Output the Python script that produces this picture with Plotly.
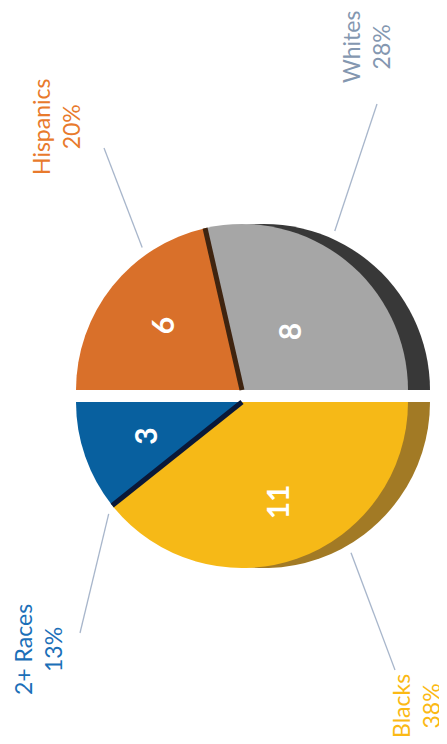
import math
import plotly.graph_objects as go

# ---------------- data ----------------
groups = ["Hispanics", "Whites", "Blacks", "2+ Races"]
counts = [6, 8, 11, 3]
pct_labels = ["20%", "28%", "38%", "13%"]
top_half = ["Hispanics", "Whites"]
bottom_half = ["Blacks", "2+ Races"]

face_colors = {"Hispanics": "#d9702a", "Whites": "#a6a6a6", "Blacks": "#f6b917", "2+ Races": "#08609f"}
side_colors = {"Hispanics": "#6e3a14", "Whites": "#383838", "Blacks": "#a27a25", "2+ Races": "#0b2a50"}
label_colors = {"Hispanics": "#e87a2c", "Whites": "#8497b0", "Blacks": "#fbb915", "2+ Races": "#1b6fb8"}

W, H = 447, 744
CX, R = 234, 166
CY_TOP, CY_BOT = 382, 394
DEPTH = 22
START = 270  # degrees clockwise from 12 o'clock

val = dict(zip(groups, counts))
total = sum(counts)


def px(x):
    return x / W


def py(y):
    return 1 - y / H


def domain(cx, cy):
    return dict(x=[px(cx - R), px(cx + R)], y=[py(cy + R), py(cy - R)])


top_vals = [val[g] for g in top_half] + [sum(val[g] for g in bottom_half)]
bot_vals = [sum(val[g] for g in top_half)] + [val[g] for g in bottom_half]
clear = "rgba(0,0,0,0)"

fig = go.Figure()


def add_pie(values, colors, cx, cy):
    fig.add_trace(go.Pie(
        values=values, sort=False, direction="clockwise", rotation=START,
        marker=dict(colors=colors, line=dict(width=0)),
        textinfo="none", hoverinfo="skip", showlegend=False,
        domain=domain(cx, cy),
    ))


# side (depth) layers
add_pie(top_vals, [side_colors[g] for g in top_half] + [clear], CX + DEPTH, CY_TOP)
add_pie(bot_vals, [clear] + [side_colors[g] for g in bottom_half], CX + DEPTH, CY_BOT)
# top faces
add_pie(top_vals, [face_colors[g] for g in top_half] + [clear], CX, CY_TOP)
add_pie(bot_vals, [clear] + [face_colors[g] for g in bottom_half], CX, CY_BOT)

# slice angles (clockwise from 12 o'clock), following the drawing order
order = top_half + bottom_half
angles = {}
a = START
for g in order:
    span = val[g] / total * 360
    angles[g] = (a, a + span)
    a += span


def point(g_cy, phi, r):
    t = math.radians(phi)
    return CX + r * math.sin(t), g_cy - r * math.cos(t)


shapes = []
# dark separators between adjacent slices
sep = [(angles["Whites"][0], CY_TOP, "#3f2410"), (angles["2+ Races"][0], CY_BOT, "#0a1838")]
for phi, cy, col in sep:
    x1, y1 = point(cy, phi, R)
    shapes.append(dict(type="line", xref="paper", yref="paper",
                       x0=px(CX), y0=py(cy), x1=px(x1), y1=py(y1),
                       line=dict(color=col, width=5)))

annotations = []
# values inside slices
radial_frac = {"Hispanics": 0.62, "Whites": 0.45, "Blacks": 0.64, "2+ Races": 0.62}
for g in order:
    cy = CY_TOP if g in top_half else CY_BOT
    mid = sum(angles[g]) / 2
    x, y = point(cy, mid, R * radial_frac[g])
    annotations.append(dict(x=px(x), y=py(y), xref="paper", yref="paper",
                            xanchor="center", yanchor="middle",
                            text=f"<b>{val[g]}</b>", showarrow=False, textangle=-90,
                            font=dict(family="Lato", size=30, color="white")))

# outside labels with leader lines
label_pos = {"Hispanics": (48, 119), "Whites": (358, 39), "Blacks": (408, 698), "2+ Races": (30, 642)}
leader = {"Hispanics": ((96, 140), 325), "Whites": ((369, 96), 24),
          "Blacks": ((387, 662), 150), "2+ Races": ((72, 625), 230)}
for g in groups:
    lx, ly = label_pos[g]
    annotations.append(dict(x=px(lx), y=py(ly), xref="paper", yref="paper",
                            xanchor="center", yanchor="middle",
                            text=f"{g}<br>{pct_labels[groups.index(g)]}", showarrow=False,
                            textangle=-90, align="center",
                            font=dict(family="Lato", size=23, color=label_colors[g])))
    (ox, oy), phi = leader[g]
    cy = CY_TOP if g in top_half else CY_BOT
    ix, iy = point(cy, phi, R + 8)
    if g in ("Whites", "Blacks"):
        ix += DEPTH
    shapes.append(dict(type="line", xref="paper", yref="paper",
                       x0=px(ox), y0=py(oy), x1=px(ix), y1=py(iy),
                       line=dict(color="#a8b6cb", width=1.3)))

fig.update_layout(
    width=W, height=H, margin=dict(l=0, r=0, t=0, b=0),
    paper_bgcolor="white", plot_bgcolor="white",
    shapes=shapes, annotations=annotations,
)

fig.write_html("out.html")
